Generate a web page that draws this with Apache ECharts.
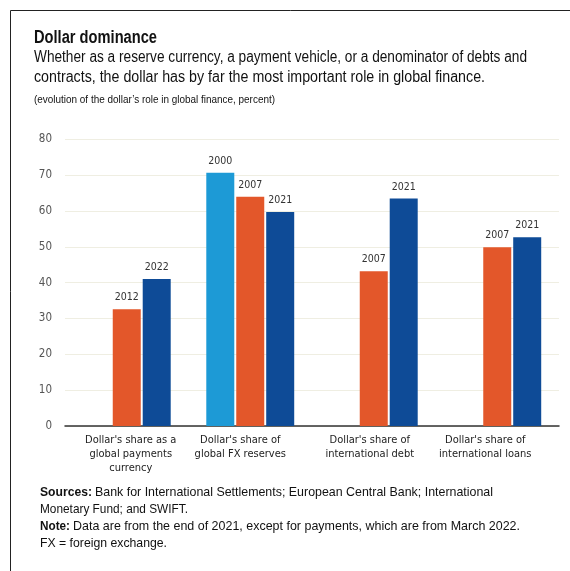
<!DOCTYPE html>
<html>
<head>
<meta charset="utf-8">
<script src="https://cdn.jsdelivr.net/npm/echarts@6/dist/echarts.min.js"></script>
<style>html,body{margin:0;padding:0;background:#fff;}#c{width:570px;height:571px;}</style>
</head>
<body>
<div id="c"></div>
<script>
var categories = ["Dollar's share as a\nglobal payments\ncurrency", "Dollar's share of\nglobal FX reserves", "Dollar's share of\ninternational debt", "Dollar's share of\ninternational loans"];
var lightValues = [null, 70.7, null, null];
var lightYears = [null, '2000', null, null];
var orangeValues = [32.6, 64.0, 43.2, 49.9];
var orangeYears = ['2012', '2007', '2007', '2007'];
var blueValues = [41.0, 59.7, 63.5, 52.7];
var blueYears = ['2022', '2021', '2021', '2021'];
var yTicks = [0, 10, 20, 30, 40, 50, 60, 70, 80];

var COND = "'DejaVu Sans Condensed', 'Liberation Sans', sans-serif";
var SANS = "'Liberation Sans', Arial, sans-serif";

var mctx = document.createElement('canvas').getContext('2d');
// text drawn horizontally squeezed so that it spans [x0, x1]
function fitText(str, x0, x1, top, font, color) {
  mctx.font = font;
  var w = mctx.measureText(str).width;
  var s = (x1 - x0) / w;
  return { type: 'text', x: x0, y: top, scaleX: s, scaleY: 1,
    style: { text: str, font: font, fill: color || '#111', textVerticalAlign: 'top', textAlign: 'left' } };
}

function mk(vals, years, color) {
  return {
    type: 'bar',
    barWidth: 28,
    barGap: '7%',
    data: vals.map(function (v, i) { return { value: v, year: years[i] }; }),
    itemStyle: { color: color },
    label: {
      show: true, position: 'top', distance: 6,
      fontFamily: COND, fontSize: 10.5, color: '#333',
      formatter: function (p) { return p.data.year || ''; }
    }
  };
}

// small horizontal nudges of the category labels (style only)
var labelRich = {
  c0: { padding: [0, 0, 0, 8], fontFamily: COND, fontSize: 11, lineHeight: 14, color: '#222' },
  c1: { padding: [0, 20, 0, 0], fontFamily: COND, fontSize: 11, lineHeight: 14, color: '#222' },
  c2: { padding: [0, 8, 0, 0], fontFamily: COND, fontSize: 11, lineHeight: 14, color: '#222' },
  c3: { padding: [0, 24, 0, 0], fontFamily: COND, fontSize: 11, lineHeight: 14, color: '#222' }
};

var chart = echarts.init(document.getElementById('c'), null, { renderer: 'canvas' });
chart.setOption({
  animation: false,
  backgroundColor: '#fff',
  grid: { left: 65, right: 11, top: 139.3, bottom: 145 },
  xAxis: {
    type: 'category', data: categories,
    axisLine: { lineStyle: { color: '#333', width: 1.5 } },
    axisTick: { show: false },
    axisLabel: {
      fontFamily: COND, fontSize: 11, lineHeight: 14, color: '#222', margin: 7, interval: 0,
      formatter: function (v, i) {
        return v.split('\n').map(function (l) { return '{c' + i + '|' + l + '}'; }).join('\n');
      },
      rich: labelRich
    }
  },
  yAxis: {
    type: 'value', min: yTicks[0], max: yTicks[yTicks.length - 1], interval: 10,
    axisLine: { show: false }, axisTick: { show: false },
    axisLabel: { fontFamily: COND, fontSize: 11.5, color: '#555', margin: 13 },
    splitLine: { lineStyle: { color: '#efeee2', width: 1 } }
  },
  series: [
    mk(lightValues, lightYears, '#1d9ad6'),
    mk(orangeValues, orangeYears, '#e3572a'),
    mk(blueValues, blueYears, '#0e4b97')
  ],
  graphic: [
    { type: 'rect', shape: { x: 10.5, y: 10.5, width: 620, height: 620 }, style: { fill: null, stroke: '#222', lineWidth: 1 } },
    fitText('Dollar dominance', 34, 157, 29, 'bold 18px ' + SANS),
    fitText('Whether as a reserve currency, a payment vehicle, or a denominator of debts and', 34, 527, 50, '16px ' + SANS),
    fitText('contracts, the dollar has by far the most important role in global finance.', 34, 485, 70, '16px ' + SANS),
    fitText('(evolution of the dollar\u2019s role in global finance, percent)', 34, 275, 95, '10.5px ' + SANS),
    fitText('Sources:', 40, 92, 486, 'bold 13px ' + SANS),
    fitText('Bank for International Settlements; European Central Bank; International', 95, 493, 486, '13px ' + SANS),
    fitText('Monetary Fund; and SWIFT.', 40, 188, 503, '13px ' + SANS),
    fitText('Note:', 40, 70, 520, 'bold 13px ' + SANS),
    fitText('Data are from the end of 2021, except for payments, which are from March 2022.', 73, 520, 520, '13px ' + SANS),
    fitText('FX = foreign exchange.', 40, 167, 537, '13px ' + SANS)
  ]
});
</script>
</body>
</html>
